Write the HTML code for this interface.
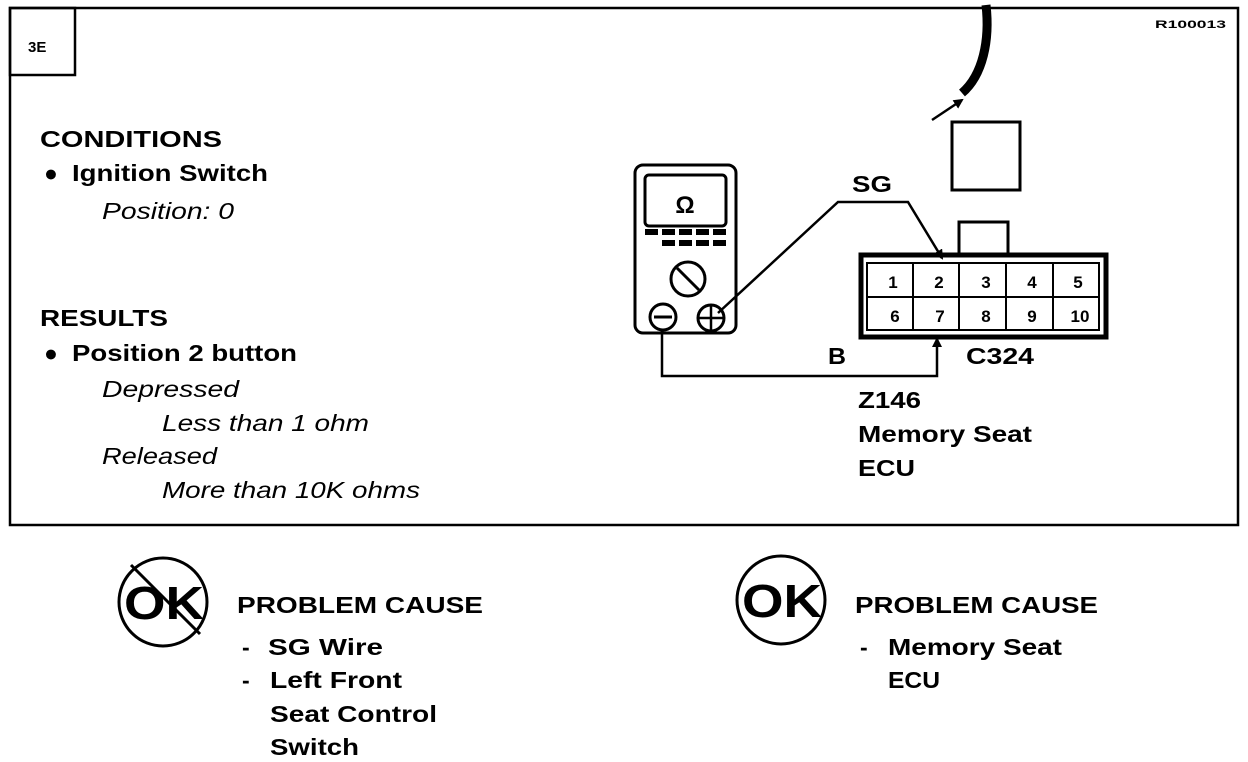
<!DOCTYPE html>
<html><head><style>body{margin:0;background:#fff}svg{display:block}text{font-family:"Liberation Sans",Arial,sans-serif;fill:#000}</style></head>
<body>
<svg width="1248" height="762" viewBox="0 0 1248 762" xmlns="http://www.w3.org/2000/svg">
<defs><marker id="a" markerWidth="10" markerHeight="10" refX="8" refY="5" orient="auto" markerUnits="userSpaceOnUse"><path d="M0,0 L10,5 L0,10 z"/></marker></defs>
<rect x="10" y="8" width="1228" height="517" fill="none" stroke="#000" stroke-width="2.5"/>
<rect x="10" y="8" width="65" height="67" fill="none" stroke="#000" stroke-width="2.5"/>
<text x="28" y="52" font-size="15" font-weight="bold">3E</text>
<text x="1155" y="28" font-size="11" font-weight="bold" textLength="71" lengthAdjust="spacingAndGlyphs">R100013</text>
<g font-size="23" font-weight="bold" lengthAdjust="spacingAndGlyphs">
<text x="40" y="147" textLength="182" lengthAdjust="spacingAndGlyphs">CONDITIONS</text>
<text x="44" y="181">●</text><text x="72" y="181" textLength="196" lengthAdjust="spacingAndGlyphs">Ignition Switch</text>
<text x="40" y="326" textLength="128" lengthAdjust="spacingAndGlyphs">RESULTS</text>
<text x="44" y="361">●</text><text x="72" y="361" textLength="225" lengthAdjust="spacingAndGlyphs">Position 2 button</text>
</g>
<g font-size="23" font-style="italic">
<text x="102" y="219" textLength="132" lengthAdjust="spacingAndGlyphs">Position: 0</text>
<text x="102" y="397" textLength="137" lengthAdjust="spacingAndGlyphs">Depressed</text>
<text x="162" y="431" textLength="207" lengthAdjust="spacingAndGlyphs">Less than 1 ohm</text>
<text x="102" y="464" textLength="115" lengthAdjust="spacingAndGlyphs">Released</text>
<text x="162" y="498" textLength="258" lengthAdjust="spacingAndGlyphs">More than 10K ohms</text>
</g>
<!-- meter -->
<rect x="635" y="165" width="101" height="168" rx="8" fill="none" stroke="#000" stroke-width="3"/>
<rect x="645" y="175" width="81" height="51" rx="4" fill="none" stroke="#000" stroke-width="3"/>
<text x="685" y="213" font-size="24" font-weight="bold" text-anchor="middle">Ω</text>
<g fill="#000"><rect x="645" y="229" width="13" height="6"/><rect x="662" y="229" width="13" height="6"/><rect x="679" y="229" width="13" height="6"/><rect x="696" y="229" width="13" height="6"/><rect x="713" y="229" width="13" height="6"/>
<rect x="662" y="240" width="13" height="6"/><rect x="679" y="240" width="13" height="6"/><rect x="696" y="240" width="13" height="6"/><rect x="713" y="240" width="13" height="6"/></g>
<circle cx="688" cy="279" r="17" fill="none" stroke="#000" stroke-width="3"/>
<line x1="677" y1="268" x2="699" y2="290" stroke="#000" stroke-width="3"/>
<circle cx="663" cy="317" r="13" fill="none" stroke="#000" stroke-width="3"/>
<line x1="654" y1="317" x2="672" y2="317" stroke="#000" stroke-width="3"/>
<circle cx="711" cy="318" r="13" fill="none" stroke="#000" stroke-width="3"/>
<line x1="698" y1="318" x2="724" y2="318" stroke="#000" stroke-width="2.5"/><line x1="711" y1="305" x2="711" y2="331" stroke="#000" stroke-width="2.5"/>
<!-- wires -->
<polyline points="718,313 838,202 908,202 942,258" fill="none" stroke="#000" stroke-width="2.5" marker-end="url(#a)"/>
<polyline points="662,331 662,376 937,376 937,339" fill="none" stroke="#000" stroke-width="2.5" marker-end="url(#a)"/>
<text x="852" y="192" font-size="23" font-weight="bold" textLength="40" lengthAdjust="spacingAndGlyphs">SG</text>
<text x="828" y="364" font-size="23" font-weight="bold" textLength="18" lengthAdjust="spacingAndGlyphs">B</text>
<!-- connector -->
<rect x="952" y="122" width="68" height="68" fill="none" stroke="#000" stroke-width="3"/>
<rect x="959" y="222" width="49" height="32" fill="none" stroke="#000" stroke-width="3"/>
<rect x="861" y="255" width="245" height="82" fill="none" stroke="#000" stroke-width="5"/>
<rect x="867" y="263" width="232" height="67" fill="none" stroke="#000" stroke-width="2"/>
<g stroke="#000" stroke-width="2"><line x1="867" y1="297" x2="1099" y2="297"/><line x1="913" y1="263" x2="913" y2="330"/><line x1="959" y1="263" x2="959" y2="330"/><line x1="1006" y1="263" x2="1006" y2="330"/><line x1="1053" y1="263" x2="1053" y2="330"/></g>
<g font-size="17" font-weight="bold" text-anchor="middle">
<text x="893" y="288">1</text><text x="939" y="288">2</text><text x="986" y="288">3</text><text x="1032" y="288">4</text><text x="1078" y="288">5</text>
<text x="895" y="322">6</text><text x="940" y="322">7</text><text x="986" y="322">8</text><text x="1032" y="322">9</text><text x="1080" y="322">10</text></g>
<text x="966" y="364" font-size="23" font-weight="bold" textLength="68" lengthAdjust="spacingAndGlyphs">C324</text>
<g font-size="23" font-weight="bold"><text x="858" y="408" textLength="63" lengthAdjust="spacingAndGlyphs">Z146</text><text x="858" y="442" textLength="174" lengthAdjust="spacingAndGlyphs">Memory Seat</text><text x="858" y="476" textLength="57" lengthAdjust="spacingAndGlyphs">ECU</text></g>
<!-- cable -->
<path d="M986,5 C990,40 983,75 962,93" fill="none" stroke="#000" stroke-width="9"/>
<line x1="932" y1="120" x2="962" y2="100" stroke="#000" stroke-width="2.5" marker-end="url(#a)"/>
<!-- bottom -->
<circle cx="163" cy="602" r="44" fill="none" stroke="#000" stroke-width="3"/>
<line x1="131" y1="565" x2="200" y2="634" stroke="#000" stroke-width="3"/>
<text x="124" y="619" font-size="46" font-weight="bold" textLength="80" lengthAdjust="spacingAndGlyphs">OK</text>
<circle cx="781" cy="600" r="44" fill="none" stroke="#000" stroke-width="3"/>
<text x="742" y="617" font-size="46" font-weight="bold" textLength="80" lengthAdjust="spacingAndGlyphs">OK</text>
<g font-size="23" font-weight="bold">
<text x="237" y="613" textLength="246" lengthAdjust="spacingAndGlyphs">PROBLEM CAUSE</text>
<text x="242" y="655">-</text><text x="268" y="655" textLength="115" lengthAdjust="spacingAndGlyphs">SG  Wire</text>
<text x="242" y="688">-</text><text x="270" y="688" textLength="132" lengthAdjust="spacingAndGlyphs">Left Front</text>
<text x="270" y="722" textLength="167" lengthAdjust="spacingAndGlyphs">Seat Control</text>
<text x="270" y="755" textLength="89" lengthAdjust="spacingAndGlyphs">Switch</text>
<text x="855" y="613" textLength="243" lengthAdjust="spacingAndGlyphs">PROBLEM CAUSE</text>
<text x="860" y="655">-</text><text x="888" y="655" textLength="174" lengthAdjust="spacingAndGlyphs">Memory Seat</text>
<text x="888" y="688" textLength="52" lengthAdjust="spacingAndGlyphs">ECU</text>
</g>
</svg>
</body></html>
